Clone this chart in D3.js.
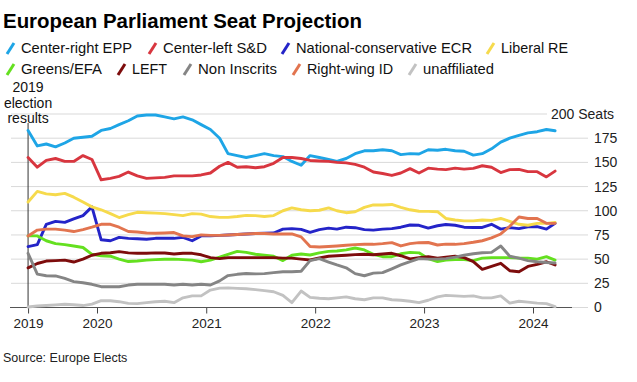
<!DOCTYPE html>
<html><head><meta charset="utf-8">
<script src="https://cdn.jsdelivr.net/npm/d3@7"></script>
<style>
html,body{margin:0;padding:0;background:#fff;}
svg{display:block;font-family:"Liberation Sans",Arial,sans-serif;}
</style></head>
<body><svg id="c" width="637" height="382"></svg>
<script>
const months = ["2019-05","2019-06","2019-07","2019-08","2019-09","2019-10","2019-11","2019-12",
"2020-01","2020-02","2020-03","2020-04","2020-05","2020-06","2020-07","2020-08","2020-09","2020-10","2020-11","2020-12",
"2021-01","2021-02","2021-03","2021-04","2021-05","2021-06","2021-07","2021-08","2021-09","2021-10","2021-11","2021-12",
"2022-01","2022-02","2022-03","2022-04","2022-05","2022-06","2022-07","2022-08","2022-09","2022-10","2022-11","2022-12",
"2023-01","2023-02","2023-03","2023-04","2023-05","2023-06","2023-07","2023-08","2023-09","2023-10","2023-11","2023-12",
"2024-01","2024-02","2024-03"];

const epp = [183,167,169,166,170,175,176,177,183,185,189,193,198,199,199,197,195,197,194,189,184,175,159,157,155,157,159,157,156,151,147,157,155,153,151,154,159,162,162,163,162,158,159,158.6,163,162.5,163.5,162,161.5,157.5,159,164,171,175,178,180.5,181.7,184,182.7];
const sd = [155,145,152,154,151,151,157,153,132,133.5,135.5,140,136,133.5,134,134.5,136,136,136,137,139,146,150,145,145.5,144.5,145.5,149,155,155,154,152,151.4,151,150,149.5,148,145,140,138.5,136.5,139,143.5,139,144,143,142.5,144,143,143.8,146.5,145,139.5,142.5,142.8,140.4,140.4,135,141];
const ecr = [63,65,86,89,88,91.5,95,104,70,69,72.5,71.5,71,70.5,71.5,71.5,71.5,72.5,69,74,74.2,74.5,75,75.5,76,76.5,76.7,77,81,81.5,80.8,77.7,80.5,82,81,83,82.5,80.5,80,81,81.5,83,85.3,85,82,84.5,85.8,85,83,82.7,82.7,86,81,82.5,81.5,83.5,83.5,81,87];
const re = [109,120,117.5,116.5,118,114,109,104,101,97,93,96,98.4,98,97.5,97,96,95,97,96.5,94,93.2,93.2,94,95.2,95,94,95,100,103,101,100,100.5,103,100,98,99,103.5,106,106,106.5,103.5,101,99.5,99.4,99,92,90.4,89.5,89.5,90.4,90,92,89,86,85,87,87,88];
const greens = [74,74,69,66,65,63.6,62,55,53.5,53,50,47.5,48,49,49.5,49.8,50,49.5,49,47.3,49,52,55,58,57,55,54,53,48.5,54,55.3,54.3,56.5,58,58.4,59.5,61.5,59.5,55,52.5,52.5,55.5,57,56.5,50.5,47.5,49,49.5,49.5,48.5,51,51.5,51.5,51.5,51,51,50,52.5,49];
const left = [41,45.5,48,48.4,49,47,50,54,56,56.6,57.7,56.5,56,56,56.5,56.3,55.3,56,56,54.5,51.5,50.5,51.5,51.5,51.5,51.5,51.5,51.5,51,51,50,49.1,51.2,53,53.5,54,54.6,55,54.5,55.3,56,53.5,50.3,51.5,52.5,51,52,53,51.5,47.5,39.5,42.5,45.7,38,37,42.5,44.5,47.3,44];
const ni = [56,34.5,32.8,32.6,30,26.8,25.6,24,21.5,21.5,21.5,23.2,24,24,24,24,23.3,24,23.3,24,23.3,27.5,33,34.3,35.2,34.8,35,36,37,37,37.5,48.5,50.5,47,44,41,35,32.8,35.5,36,40,44,47.5,50.5,50,50,50.5,52,54,55.5,56.6,57,63.5,53,51,48.5,47.3,46.5,46];
const idg = [74,80,81,81,80,78.5,80.5,83,86,86,83,78.5,78,77,76.7,77,77.5,74,73.2,75,74.5,74.5,75,75.5,76,76.5,76.5,76,76,76,73,63,62.5,63,63.6,64.3,65,65.3,65.3,66,67,63.6,66,67,67.2,64.6,65.5,65.3,66,67.4,69,72,76,84,93.5,92,92,87,87];
const unaff = [0.5,1.5,2,2.7,3.3,2.8,2,3.5,7,7,6,4.3,4,5,6,6.5,5,10,12,12,18,20,20.3,19.8,19.4,18.5,17.5,16.3,12.5,5,17,10.5,9.5,9,10,11,9,8,10,10,8,7.5,6.5,5,7.5,11,12.5,12,11.5,12,10,10,12,4.5,6.5,5.5,4.5,4,0.8];

const seriesNames = ["Center-right EPP","Center-left S&D","National-conservative ECR","Liberal RE","Greens/EFA","LEFT","Non Inscrits","Right-wing ID","unaffiliated"];
const seriesValues = [epp, sd, ecr, re, greens, left, ni, idg, unaff];
const seriesColors = ["#1ea5e6","#d8363f","#2424c8","#f6da4c","#64e01f","#7d0c0c","#858585","#e2744f","#c2c2c2"];

const yTicks = [0,25,50,75,100,125,150,175,200];
const xTickYears = ["2019","2020","2021","2022","2023","2024"];

const parse = d3.timeParse("%Y-%m-%d");
const dates = months.map(m => parse(m + "-15"));

const svg = d3.select("#c");
const x = d3.scaleTime().domain([new Date(2020,0,1), new Date(2024,0,1)]).range([97, 533]);
const y = d3.scaleLinear().domain([0,200]).range([307.5, 114]);

// title
svg.append("text").attr("x",3).attr("y",28).attr("font-size",20.5).attr("font-weight","bold")
  .attr("fill","#000").attr("textLength",359).attr("lengthAdjust","spacingAndGlyphs")
  .text("European Parliament Seat Projection");

// legend
const legendPos = [[21,48,111],[163,48,104],[296,48,176],[501,48,67],[21,69,81],[132,69,35],[198,69,79],[307,69,86],[423,69,71]];
seriesNames.forEach((n,i)=>{
  const [tx,ty,tw] = legendPos[i];
  svg.append("line").attr("x1",tx-14).attr("y1",ty+6).attr("x2",tx-7).attr("y2",ty-5)
    .attr("stroke",seriesColors[i]).attr("stroke-width",3);
  svg.append("text").attr("x",tx).attr("y",ty+5).attr("font-size",14.5).attr("fill","#111")
    .attr("textLength",tw).attr("lengthAdjust","spacingAndGlyphs").text(n);
});

// gridlines
svg.append("g").selectAll("line").data(yTicks).join("line")
  .attr("x1",11).attr("x2",d=> d===200 ? 547 : 588)
  .attr("y1",d=>y(d)).attr("y2",d=>y(d))
  .attr("stroke","#d9d9d9").attr("stroke-width",1);

// y labels
const yAxis = d3.axisRight(y).tickValues(yTicks).tickSize(0).tickPadding(0)
  .tickFormat(d => d===200 ? "200 Seats" : d);
const yg = svg.append("g").attr("transform","translate(594,0)").call(yAxis);
yg.select(".domain").remove();
yg.selectAll("text").attr("font-size",14).attr("fill","#222").attr("font-family","Liberation Sans, Arial, sans-serif");
yg.selectAll(".tick").filter(d=>d===200).select("text").attr("x",-43);

// x axis
const xTickDates = [dates[0], new Date(2020,0,1), new Date(2021,0,1), new Date(2022,0,1), new Date(2023,0,1), new Date(2024,0,1)];
const xAxis = d3.axisBottom(x).tickValues(xTickDates).tickSize(6).tickPadding(5)
  .tickFormat((d,i)=>xTickYears[i]);
const xg = svg.append("g").attr("transform","translate(0,307.5)").call(xAxis);
xg.select(".domain").remove();
xg.selectAll("line").attr("stroke","#444");
xg.selectAll("text").attr("font-size",13.5).attr("fill","#222").attr("font-family","Liberation Sans, Arial, sans-serif");
svg.append("line").attr("x1",10).attr("x2",572).attr("y1",307.5).attr("y2",307.5).attr("stroke","#555").attr("stroke-width",1.2);

// election line
svg.append("line").attr("x1",x(dates[0])).attr("x2",x(dates[0])).attr("y1",123).attr("y2",307.5)
  .attr("stroke","#333").attr("stroke-width",1);
["2019","election","results"].forEach((t,i)=>{
  svg.append("text").attr("x",x(dates[0])).attr("y",92+i*15.5).attr("text-anchor","middle")
    .attr("font-size",14).attr("fill","#111").text(t);
});

// lines
const line = d3.line().x((d,i)=>x(dates[i])).y(d=>y(d));
seriesValues.forEach((vals,i)=>{
  svg.append("path").datum(vals).attr("d",line).attr("fill","none")
    .attr("stroke",seriesColors[i]).attr("stroke-width",2.9)
    .attr("stroke-linejoin","round").attr("stroke-linecap","round");
});

// source
svg.append("text").attr("x",3).attr("y",362).attr("font-size",12.5).attr("fill","#222").text("Source: Europe Elects");
</script></body></html>
